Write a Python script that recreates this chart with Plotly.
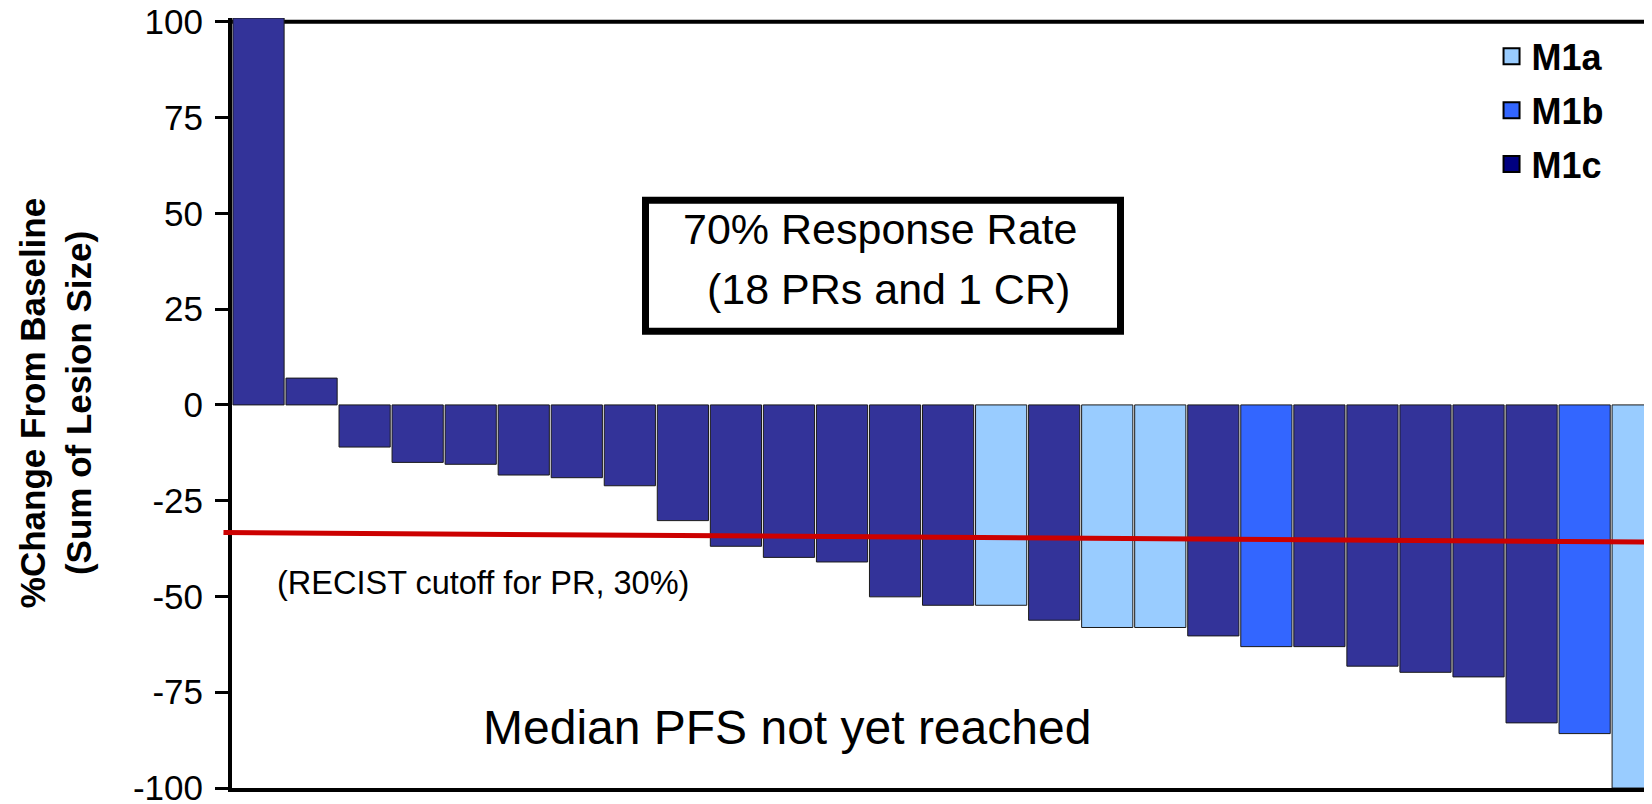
import plotly.graph_objects as go

# ---- data ----
patients = list(range(1, 28))
pct_change = [101, 7, -11, -15, -15.5, -18.3, -19, -21.1, -30.2, -36.9, -39.8, -41,
              -50.1, -52.3, -52.3, -56.2, -58.1, -58.1, -60.3, -63.1, -63.1, -68.2,
              -69.8, -71, -83, -85.8, -100]
stage = ["M1c", "M1c", "M1c", "M1c", "M1c", "M1c", "M1c", "M1c", "M1c", "M1c", "M1c", "M1c",
         "M1c", "M1c", "M1a", "M1c", "M1a", "M1a", "M1c", "M1b", "M1c", "M1c",
         "M1c", "M1c", "M1c", "M1b", "M1a"]
legend_stages = ["M1a", "M1b", "M1c"]
y_ticks = [100, 75, 50, 25, 0, -25, -50, -75, -100]
recist_line = [-33.3, -35.8]   # start / end of the drawn cutoff line

bar_colors = {"M1a": "#99CCFF", "M1b": "#3366FF", "M1c": "#333399"}
legend_colors = {"M1a": "#99CCFF", "M1b": "#3366FF", "M1c": "#000080"}

FONT = "Arial, Liberation Sans, sans-serif"

fig = go.Figure()
fig.add_trace(go.Bar(
    x=[p - 1 for p in patients],
    y=pct_change,
    marker=dict(color=[bar_colors[s] for s in stage],
                line=dict(color="#1a1a1a", width=1)),
    showlegend=False,
    hoverinfo="y",
))

for i, s in enumerate(legend_stages):
    fig.add_trace(go.Scatter(
        x=[None], y=[None], mode="markers", name=s,
        legendgroup=s,
        marker=dict(symbol="square", size=16, color=legend_colors[s],
                    line=dict(color="black", width=2)),
    ))

fig.update_layout(
    width=1644, height=796,
    margin=dict(l=224, r=0, t=10, b=16),
    paper_bgcolor="white", plot_bgcolor="white",
    font=dict(family=FONT, color="black"),
    bargap=0.035,
    showlegend=True,
    legend=dict(
        x=0.887, y=0.989, xanchor="left", yanchor="top",
        bgcolor="rgba(0,0,0,0)",
        font=dict(family=FONT, size=36, color="black", weight="bold"),
        traceorder="grouped", tracegroupgap=4,
        itemsizing="trace",
    ),
    xaxis=dict(
        range=[-0.5, 26.27], showgrid=False, zeroline=False,
        showticklabels=False, ticks="", automargin=False,
        showline=True, linecolor="black", linewidth=4,
    ),
    yaxis=dict(
        range=[-100, 101], tickvals=y_ticks, ticktext=[str(v) for v in y_ticks],
        showgrid=False, zeroline=False, automargin=False,
        showline=True, linecolor="black", linewidth=4,
        ticks="outside", ticklen=13, tickwidth=3, tickcolor="black",
        tickfont=dict(family=FONT, size=35, color="black"),
        ticklabelstandoff=5, ticklabeloverflow="allow",
        title=dict(text="%Change From Baseline<br>(Sum of Lesion Size)",
                   font=dict(family=FONT, size=35, color="black", weight="bold"),
                   standoff=32),
    ),
    shapes=[
        # top border line at 100
        dict(type="line", xref="paper", yref="y", x0=0, x1=1, y0=100, y1=100,
             line=dict(color="black", width=4), layer="below"),
        # RECIST cutoff line
        dict(type="line", xref="paper", yref="y", x0=-0.006, x1=1,
             y0=recist_line[0], y1=recist_line[1],
             line=dict(color="#CC0000", width=5), layer="above"),
        # response-rate box
        dict(type="rect", xref="paper", yref="y", x0=0.2912, x1=0.6257,
             y0=19.2, y1=53.4, line=dict(color="black", width=7),
             fillcolor="white", layer="above"),
    ],
    annotations=[
        dict(text="70% Response Rate", xref="paper", yref="y",
             x=0.4563, y=46.0, showarrow=False,
             font=dict(family=FONT, size=43, color="black")),
        dict(text="(18 PRs and 1 CR)", xref="paper", yref="y",
             x=0.462, y=30.3, showarrow=False,
             font=dict(family=FONT, size=43, color="black")),
        dict(text="(RECIST cutoff for PR, 30%)", xref="paper", yref="y",
             x=0.0303, y=-46.4, xanchor="left", showarrow=False,
             font=dict(family=FONT, size=32.5, color="black")),
        dict(text="Median PFS not yet reached", xref="paper", yref="y",
             x=0.3905, y=-84.1, showarrow=False,
             font=dict(family=FONT, size=48, color="black")),
    ],
)

fig.write_html("out.html")
